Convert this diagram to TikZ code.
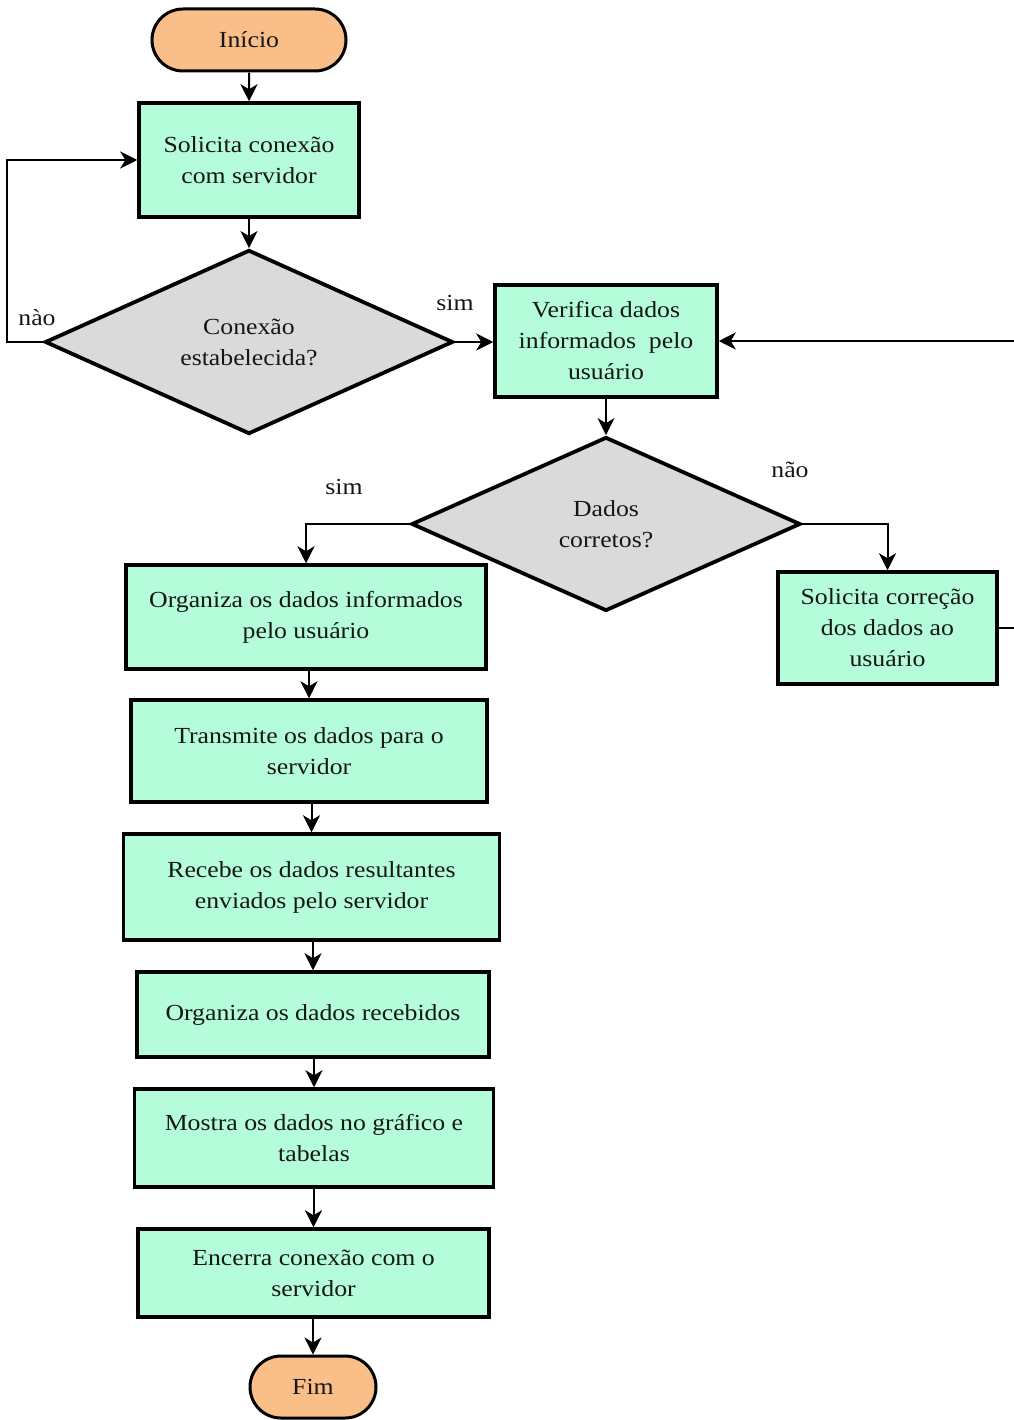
\documentclass[tikz,border=0pt]{standalone}
\usepackage{fontspec}
\setmainfont{Liberation Serif}[FakeStretch=1.12]
\usetikzlibrary{arrows.meta,shapes.geometric,shapes.misc}
\definecolor{mint}{RGB}{181,252,219}
\definecolor{peach}{RGB}{250,190,136}
\definecolor{lgray}{RGB}{218,218,218}
\definecolor{ink}{RGB}{20,24,20}
\begin{document}
\begin{tikzpicture}[x=1pt,y=-1pt,
  font=\fontsize{23}{31}\selectfont, text=ink,
  proc/.style={rectangle, draw=black, line width=3.5pt, fill=mint, align=center, inner sep=0pt},
  term/.style={rounded rectangle, draw=black, line width=3pt, fill=peach, inner sep=0pt},
  dec/.style={diamond, draw=black, line width=3.8pt, fill=lgray, align=center, inner sep=0pt},
  conn/.style={draw=black, line width=2pt, -{Stealth[length=17pt,width=17pt,inset=5pt]}},
  lbl/.style={inner sep=0pt}]
\useasboundingbox (0,0) rectangle (1013,1420);
\fill[white] (0,0) rectangle (1013,1420);

% main column
\node[term, minimum width=194pt, minimum height=62pt] (start) at (249,40) {Início};
\node[proc, minimum width=220pt, minimum height=114pt] (sol) at (249,160) {Solicita conexão\\com servidor};
\node[dec, minimum width=408pt, minimum height=184pt] (d1) at (249,342) {Conexão\\estabelecida?};
\node[proc, minimum width=222pt, minimum height=112pt] (ver) at (606,341) {Verifica dados\\informados\ \ pelo\\usuário};
\node[dec, minimum width=389pt, minimum height=174pt] (d2) at (606,524) {Dados\\corretos?};
\node[proc, minimum width=219pt, minimum height=112pt] (cor) at (887.5,628) {Solicita correção\\dos dados ao\\usuário};

% left branch
\node[proc, minimum width=360pt, minimum height=104pt] (org) at (306,617) {Organiza os dados informados\\pelo usuário};
\node[proc, minimum width=356pt, minimum height=102pt] (tra) at (309,751) {Transmite os dados para o\\servidor};
\node[proc, minimum width=376pt, minimum height=106pt] (rec) at (311.5,887) {Recebe os dados resultantes\\enviados pelo servidor};
\node[proc, minimum width=352pt, minimum height=85pt] (orr) at (313,1014.5) {Organiza os dados recebidos};
\node[proc, minimum width=359pt, minimum height=98pt] (mos) at (314,1138) {Mostra os dados no gráfico e\\tabelas};
\node[proc, minimum width=351pt, minimum height=88pt] (enc) at (313.5,1273) {Encerra conexão com o\\servidor};
\node[term, minimum width=126pt, minimum height=62pt] (fim) at (313,1387) {Fim};

% branch labels
\node[lbl] (lno1) at (37,318) {nào};
\node[lbl] (lsim1) at (455,303) {sim};
\node[lbl] (lsim2) at (344,487) {sim};
\node[lbl] (lno2) at (790,470) {não};

% connectors
\draw[conn] (start) -- (sol);
\draw[conn] (sol) -- (d1);
\draw[conn] (d1.west) -- ++(-36,0) |- (sol.west);
\draw[conn] (d1.east) -- (d1.east -| ver.west);
\draw[conn] (ver) -- (d2);
\draw[conn] (d2.west) -| (org.north);
\draw[conn] (d2.east) -| (cor.north);
\draw[conn] (cor.east) -- ++(30,0) |- (ver.east);
\draw[conn] (tra.north |- org.south) -- (tra.north);
\draw[conn] (rec.north |- tra.south) -- (rec.north);
\draw[conn] (orr.north |- rec.south) -- (orr.north);
\draw[conn] (mos.north |- orr.south) -- (mos.north);
\draw[conn] (enc.north |- mos.south) -- (enc.north);
\draw[conn] (fim.north |- enc.south) -- (fim.north);
\end{tikzpicture}
\end{document}
